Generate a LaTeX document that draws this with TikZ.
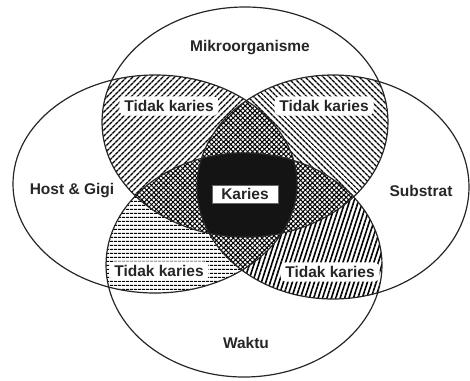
\documentclass[tikz,border=0pt]{standalone}
\usepackage{fontspec}
\setmainfont{Liberation Sans}
\usetikzlibrary{patterns.meta}
\tikzset{
  Tp/.style={insert path={(245,122) ellipse [x radius=143, y radius=115]}},
  Bp/.style={insert path={(244,265) ellipse [x radius=138, y radius=112]}},
  Lp/.style={insert path={(155,184) ellipse [x radius=142, y radius=109]}},
  Rp/.style={insert path={(333,187) ellipse [x radius=136, y radius=112]}},
  outline/.style={line width=1.2pt, draw=black!85},
  lbl/.style={font=\fontsize{15.5}{17}\selectfont\bfseries, text=black!85, inner sep=0pt},
  patch/.style={lbl, fill=white, rounded corners=6pt, inner xsep=5pt, inner ysep=4pt},
  cross/.style={pattern={Hatch[angle=45,distance=3.4pt,line width=1pt]}}
}
\begin{document}
\begin{tikzpicture}[x=1pt,y=-1pt]
\useasboundingbox (0,0) rectangle (470,380);
% pairwise regions
\begin{scope}\clip[Tp]; \fill[pattern={Lines[angle=45,distance=4pt,line width=1.6pt]}, Lp]; \end{scope}
\begin{scope}\clip[Tp]; \fill[pattern={Lines[angle=-45,distance=4pt,line width=1.6pt]}, Rp]; \end{scope}
\begin{scope}\clip[Lp]; \fill[pattern={Lines[angle=0,distance=4pt,line width=1.5pt]}, Bp]; \end{scope}
\begin{scope}\clip[Rp]; \fill[pattern={Lines[angle=72,distance=4.2pt,line width=1.6pt]}, Bp]; \end{scope}
% triple regions
\begin{scope}\clip[Tp]; \clip[Lp]; \fill[white, Rp]; \fill[cross, Rp]; \end{scope}
\begin{scope}\clip[Tp]; \clip[Lp]; \fill[white, Bp]; \fill[cross, Bp]; \end{scope}
\begin{scope}\clip[Tp]; \clip[Rp]; \fill[white, Bp]; \fill[cross, Bp]; \end{scope}
\begin{scope}\clip[Lp]; \clip[Rp]; \fill[white, Bp]; \fill[cross, Bp]; \end{scope}
% all four
\begin{scope}\clip[Tp]; \clip[Lp]; \clip[Rp]; \fill[black!92, Bp]; \end{scope}
% outlines
\draw[outline, Tp];
\draw[outline, Bp];
\draw[outline, Lp];
\draw[outline, Rp];
% labels
\node[lbl] (mikro) at (250,48) {Mikroorganisme};
\node[lbl] (host) at (72,191) {Host \& Gigi};
\node[lbl] (sub) at (421,191) {Substrat};
\node[lbl] (waktu) at (246,343) {Waktu};
\node[patch] (ul) at (169,106) {Tidak karies};
\node[patch] (ur) at (324,106) {Tidak karies};
\node[patch] (ll) at (159,271) {Tidak karies};
\node[patch] (lr) at (330,272) {Tidak karies};
\node[lbl, fill=white, draw=black!60, line width=0.6pt, minimum width=66pt, minimum height=18pt, anchor=center] (karies) at (245,194) {Karies};
\end{tikzpicture}
\end{document}
